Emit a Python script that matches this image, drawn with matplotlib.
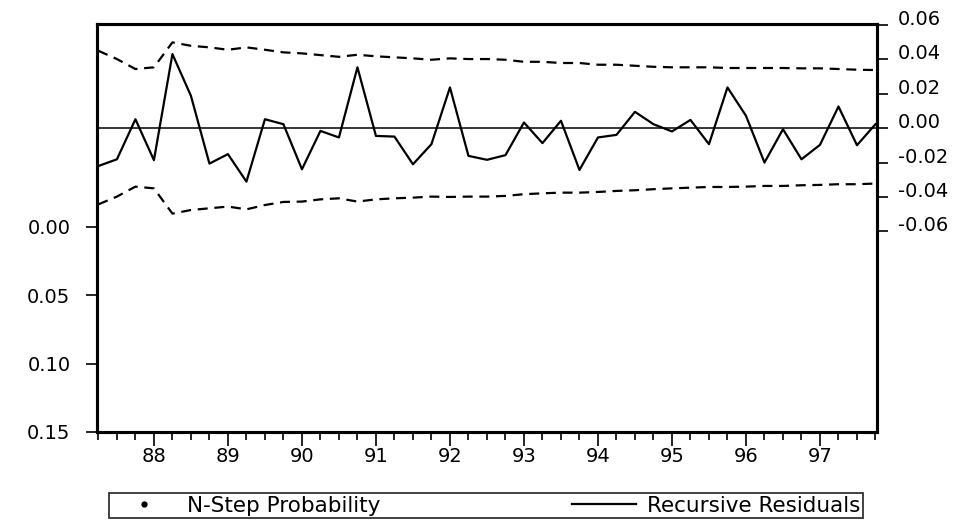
import matplotlib
matplotlib.use("Agg")
import matplotlib.pyplot as plt
from matplotlib.lines import Line2D
import numpy as np

plt.rcParams["axes.unicode_minus"] = False
plt.rcParams["font.family"] = ["DejaVu Sans"]

# Quarterly sample 1987Q2 - 1997Q4
quarters = [f"{y}Q{q}" for y in range(1987, 1998) for q in range(1, 5)][1:]
year_labels = ["88", "89", "90", "91", "92", "93", "94", "95", "96", "97"]

# Recursive residuals and +/- 2 S.E. bands
residuals = [-0.0220, -0.0181, 0.0052, -0.0186, 0.0431, 0.0188, -0.0206, -0.0151, -0.0311, 0.0052,
             0.0023, -0.0239, -0.0016, -0.0054, 0.0354, -0.0045, -0.0049, -0.0210, -0.0093, 0.0237,
             -0.0161, -0.0184, -0.0157, 0.0033, -0.0087, 0.0043, -0.0243, -0.0054, -0.0039, 0.0095,
             0.0023, -0.0019, 0.0048, -0.0093, 0.0237, 0.0072, -0.0200, -0.0006, -0.0181, -0.0097,
             0.0126, -0.0099, 0.0023]
upper_band = [0.0450, 0.0402, 0.0344, 0.0354, 0.0499, 0.0479, 0.0470, 0.0456, 0.0470, 0.0456,
              0.0441, 0.0435, 0.0425, 0.0415, 0.0427, 0.0418, 0.0412, 0.0406, 0.0398, 0.0406,
              0.0402, 0.0402, 0.0398, 0.0386, 0.0386, 0.0379, 0.0379, 0.0369, 0.0369, 0.0363,
              0.0357, 0.0354, 0.0354, 0.0354, 0.0350, 0.0350, 0.0350, 0.0350, 0.0348, 0.0348,
              0.0344, 0.0340, 0.0338]
lower_band = [-0.0443, -0.0398, -0.0340, -0.0350, -0.0497, -0.0476, -0.0466, -0.0456, -0.0472, -0.0447,
              -0.0429, -0.0427, -0.0414, -0.0408, -0.0427, -0.0414, -0.0408, -0.0404, -0.0398, -0.0400,
              -0.0398, -0.0398, -0.0394, -0.0384, -0.0379, -0.0375, -0.0375, -0.0371, -0.0365, -0.0361,
              -0.0355, -0.0350, -0.0346, -0.0342, -0.0342, -0.0340, -0.0336, -0.0336, -0.0332, -0.0330,
              -0.0326, -0.0326, -0.0322]

prob_ticks = [0.00, 0.05, 0.10, 0.15]
resid_ticks = [0.06, 0.04, 0.02, 0.00, -0.02, -0.04, -0.06]

x = np.arange(len(quarters))
year_pos = [i for i, q in enumerate(quarters) if q.endswith("Q1")]
minor_pos = [i for i in x if i not in year_pos]

fig = plt.figure(figsize=(9.73, 5.27), dpi=100)
ax = fig.add_axes([0.1002, 0.1803, 0.8011, 0.7742])
ax2 = ax.twinx()

spine_w = 2.2
tick_font = 14

# Left axis: N-step probability (inverted)
ax.set_ylim(0.15, -0.1481)
ax.set_yticks(prob_ticks)
ax.set_yticklabels([f"{v:.2f}" for v in prob_ticks], fontsize=tick_font)
ax.tick_params(axis="y", direction="out", length=8, width=1.2, pad=11.5)
ax.set_xlim(-0.05, 42.08)
ax.set_xticks(year_pos)
ax.set_xticklabels(year_labels, fontsize=tick_font)
ax.set_xticks(minor_pos, minor=True)
ax.tick_params(axis="x", which="major", direction="out", length=10, width=1.2, pad=1)
ax.tick_params(axis="x", which="minor", direction="out", length=5.5, width=1.2)

# Right axis: recursive residuals
ax2.plot(x, upper_band, color="black", lw=1.6, ls=(0, (4.5, 3)))
ax2.plot(x, lower_band, color="black", lw=1.6, ls=(0, (4.5, 3)))
ax2.axhline(0.0, color="black", lw=1.1)
ax2.plot(x, residuals, color="black", lw=1.6)
ax2.set_ylim(-0.1767, 0.0606)
ax2.set_yticks(resid_ticks)
ax2.set_yticklabels([f"{v:.2f}" for v in resid_ticks], fontsize=tick_font)
ax2.tick_params(axis="y", direction="out", length=8, width=1.2, pad=7)
for lbl in ax2.get_yticklabels():
    lbl.set_va("baseline")

for a in (ax, ax2):
    for s in a.spines.values():
        s.set_linewidth(spine_w)
        s.set_color("black")

# Legend
handles = [Line2D([], [], color="black", marker=".", markersize=7, linestyle="none"),
           Line2D([], [], color="black", lw=1.6)]
leg = fig.legend(handles, ["N-Step Probability", "Recursive Residuals"],
                 loc="upper left", bbox_to_anchor=(0.1120, 0.0076, 0.7749, 0.057),
                 mode="expand", ncol=2, fontsize=15.5, frameon=True, fancybox=False,
                 borderpad=0.12, handlelength=3.0, handletextpad=0.5, borderaxespad=0)
leg.get_frame().set_edgecolor("black")
leg.get_frame().set_linewidth(1.3)

fig.savefig("out.png", dpi=100)
